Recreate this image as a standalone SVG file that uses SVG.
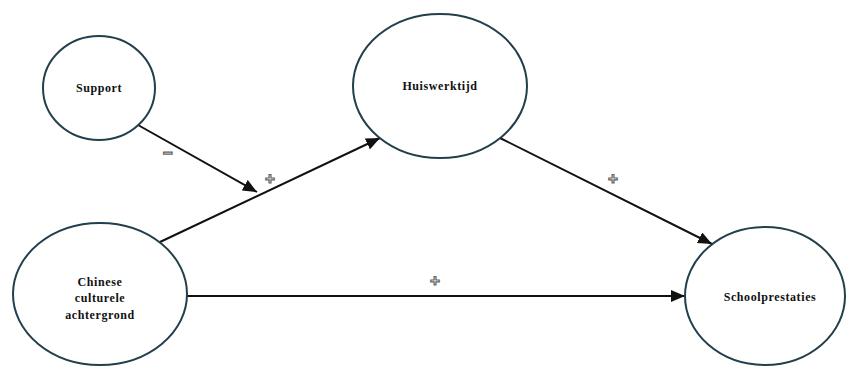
<svg xmlns="http://www.w3.org/2000/svg" width="848" height="367" viewBox="0 0 848 367">
<style>
.node{fill:#fff;stroke:#223f4c;stroke-width:2}
.lbl{font-family:"Liberation Serif",serif;font-weight:bold;font-size:12px;letter-spacing:0.6px;fill:#111;text-anchor:middle}
.edge{stroke:#111;stroke-width:2;fill:none;marker-end:url(#ah)}
.sign{font-family:"Liberation Sans",sans-serif;font-weight:bold;font-size:17px;fill:#fff;stroke:#666;stroke-width:1.2;text-anchor:middle}
</style>
<defs>
<marker id="ah" viewBox="0 0 14 12" refX="14" refY="6" markerWidth="14" markerHeight="12" markerUnits="userSpaceOnUse" orient="auto">
<path d="M0,0 L14,6 L0,12 z" fill="#111"/>
</marker>
</defs>
<rect width="848" height="367" fill="#fff"/>
<g id="connectors">
<line class="edge" x1="138" y1="125" x2="257" y2="192"/>
<line class="edge" x1="160" y1="242" x2="380" y2="138"/>
<line class="edge" x1="500" y1="138" x2="712" y2="244"/>
<line class="edge" x1="187" y1="296" x2="685" y2="296"/>
<text class="sign" x="168" y="159">−</text>
<text class="sign" x="270" y="184">+</text>
<text class="sign" x="613" y="184">+</text>
<text class="sign" x="435" y="286">+</text>
</g>
<g id="support">
<ellipse class="node" cx="99" cy="88" rx="56" ry="52"/>
<text class="lbl" x="99" y="92">Support</text>
</g>
<g id="huiswerktijd">
<ellipse class="node" cx="440" cy="86" rx="87" ry="72"/>
<text class="lbl" x="440" y="90">Huiswerktijd</text>
</g>
<g id="chinese">
<ellipse class="node" cx="100" cy="294" rx="87" ry="71"/>
<text class="lbl" x="100" y="286">Chinese</text>
<text class="lbl" x="100" y="302">culturele</text>
<text class="lbl" x="100" y="319">achtergrond</text>
</g>
<g id="schoolprestaties">
<ellipse class="node" cx="765" cy="296" rx="80" ry="69"/>
<text class="lbl" x="770" y="301">Schoolprestaties</text>
</g>
</svg>
